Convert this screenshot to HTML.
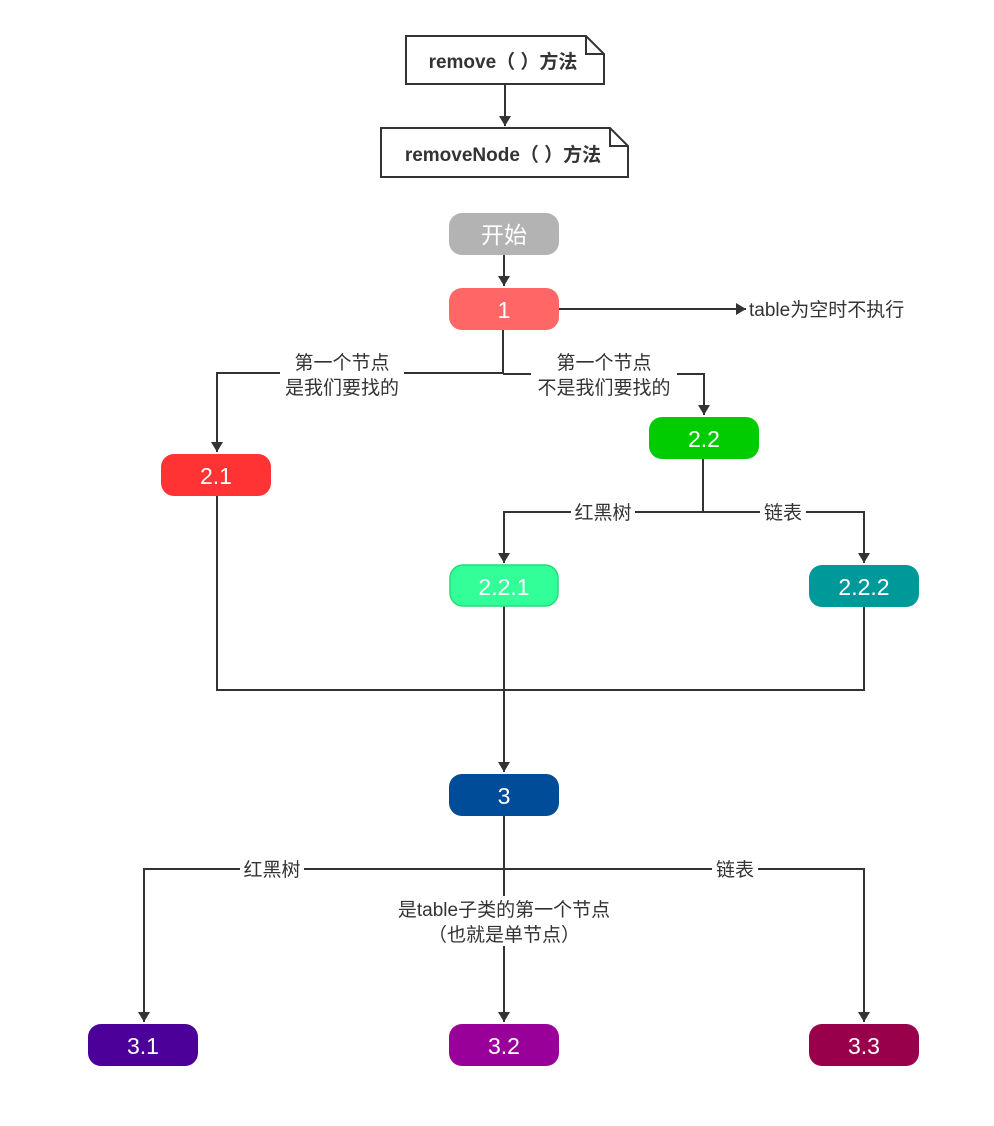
<!DOCTYPE html>
<html><head><meta charset="utf-8"><style>
html,body{margin:0;padding:0;background:#fff;}
svg text{font-family:"Liberation Sans","Noto Sans CJK SC",sans-serif;}
</style></head><body>
<svg width="994" height="1121" viewBox="0 0 994 1121" xmlns="http://www.w3.org/2000/svg">
<defs><marker id="a" markerWidth="10" markerHeight="12" refX="10" refY="6" orient="auto" markerUnits="userSpaceOnUse"><path d="M0,0 L10,6 L0,12 Z" fill="#333"/></marker></defs>
<g fill="none" stroke="#333" stroke-width="2">
<path d="M406,36 H586 L604,54 V84 H406 Z" fill="#fff"/><path d="M586,36 V54 H604"/>
<path d="M381,128 H610 L628,146 V177 H381 Z" fill="#fff"/><path d="M610,128 V146 H628"/>
<path d="M505,84 V126" marker-end="url(#a)"/>
<path d="M504,255 V286" marker-end="url(#a)"/>
<path d="M559,309 H746" marker-end="url(#a)"/>
<path d="M503,330 V373 H217 V452" marker-end="url(#a)"/>
<path d="M503,374 H704 V415" marker-end="url(#a)"/>
<path d="M703,459 V512 H504 V563" marker-end="url(#a)"/>
<path d="M703,512 H864 V563" marker-end="url(#a)"/>
<path d="M217,496 V690 H864 V606"/>
<path d="M504,606 V772" marker-end="url(#a)"/>
<path d="M504,816 V869 H144 V1022" marker-end="url(#a)"/>
<path d="M504,869 H864 V1022" marker-end="url(#a)"/>
<path d="M504,869 V1022" marker-end="url(#a)"/>
</g>
<g font-size="19" font-weight="bold" fill="#333" text-anchor="middle">
<text x="503" y="68">remove（ ）方法</text>
<text x="503" y="161">removeNode（ ）方法</text>
</g>
<g font-size="19" fill="#333">
<rect x="280" y="350" width="124" height="48" fill="#fff"/>
<text x="342" y="369" text-anchor="middle">第一个节点</text>
<text x="342" y="394" text-anchor="middle">是我们要找的</text>
<rect x="531" y="350" width="146" height="48" fill="#fff"/>
<text x="604" y="369" text-anchor="middle">第一个节点</text>
<text x="604" y="394" text-anchor="middle">不是我们要找的</text>
<text x="749" y="316">table为空时不执行</text>
<rect x="571" y="501" width="64" height="22" fill="#fff"/><text x="603" y="519" text-anchor="middle">红黑树</text>
<rect x="760" y="501" width="46" height="22" fill="#fff"/><text x="783" y="519" text-anchor="middle">链表</text>
<rect x="240" y="858" width="64" height="22" fill="#fff"/><text x="272" y="876" text-anchor="middle">红黑树</text>
<rect x="712" y="858" width="46" height="22" fill="#fff"/><text x="735" y="876" text-anchor="middle">链表</text>
<rect x="388" y="896" width="232" height="50" fill="#fff"/>
<text x="504" y="916" text-anchor="middle">是table子类的第一个节点</text>
<text x="504" y="941" text-anchor="middle">（也就是单节点）</text>
</g>
<g font-size="23" fill="#fff" text-anchor="middle">
<rect x="449" y="213" width="110" height="42" rx="13" fill="#b3b3b3"/><text x="504" y="243">开始</text>
<rect x="449" y="288" width="110" height="42" rx="13" fill="#ff6666"/><text x="504" y="318">1</text>
<rect x="161" y="454" width="110" height="42" rx="13" fill="#ff3333"/><text x="216" y="484">2.1</text>
<rect x="649" y="417" width="110" height="42" rx="13" fill="#00cc00"/><text x="704" y="447">2.2</text>
<rect x="450" y="565" width="108" height="41" rx="13" fill="#33ff99" stroke="#22dd77" stroke-width="1.5"/><text x="504" y="595">2.2.1</text>
<rect x="809" y="565" width="110" height="42" rx="13" fill="#009999"/><text x="864" y="595">2.2.2</text>
<rect x="449" y="774" width="110" height="42" rx="13" fill="#004c99"/><text x="504" y="804">3</text>
<rect x="88" y="1024" width="110" height="42" rx="13" fill="#4c0099"/><text x="143" y="1054">3.1</text>
<rect x="449" y="1024" width="110" height="42" rx="13" fill="#990099"/><text x="504" y="1054">3.2</text>
<rect x="809" y="1024" width="110" height="42" rx="13" fill="#99004c"/><text x="864" y="1054">3.3</text>
</g>
</svg>
</body></html>
